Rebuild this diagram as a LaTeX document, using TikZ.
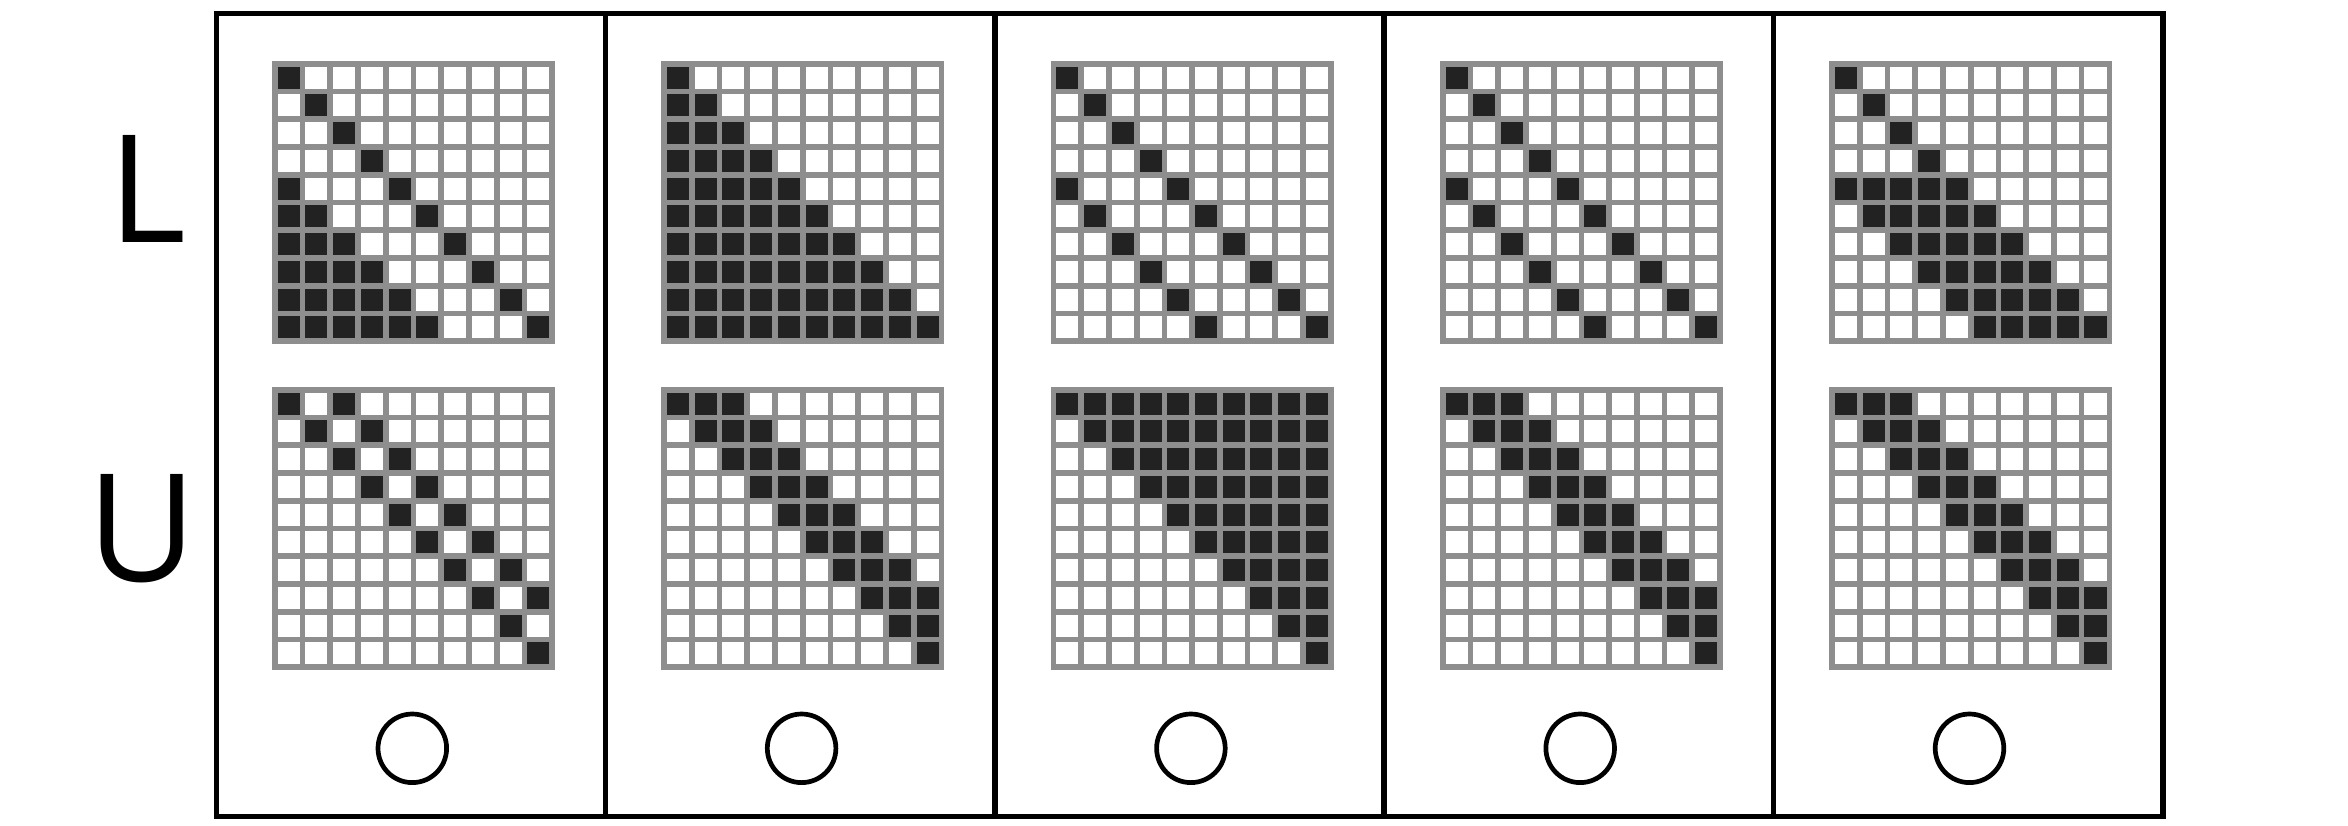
\documentclass[tikz,border=0pt]{standalone}
\usepackage{fontspec}
\setmainfont{Open Sans}
\definecolor{gridgray}{HTML}{8E8E8E}
\definecolor{cellblack}{HTML}{222222}
\newcommand\drawmat[3]{%
  \fill[gridgray] (#1,#2) rectangle ++(283,283);
  \foreach \i in {0,...,9}{\foreach \j in {0,...,9}{%
    \pgfmathtruncatemacro\d{\i-\j}%
    \pgfmathtruncatemacro\bb{(#3)?1:0}%
    \ifnum\bb=1 \def\cc{cellblack}\else\def\cc{white}\fi
    \fill[\cc] ({#1+5.7+\j*27.73},{#2+5.7+\i*27.73}) rectangle ++(22.03,22.03);
  }}%
}
\begin{document}
\begin{tikzpicture}[x=1pt,y=-1pt,
  frame/.style={line width=5.5pt,black},
  dot/.style={line width=4.7pt,black},
  lab/.style={font=\fontsize{150}{150}\selectfont,inner sep=0pt,anchor=base}]
\useasboundingbox (0,0) rectangle (2348,825);
\fill[white] (0,0) rectangle (2348,825);
% matrices
\drawmat{272}{61}{(\d==0)||(\d>=4)}
\drawmat{272}{387}{(\d==0)||(\d==-2)}
\drawmat{661.3}{61}{(\d>=0)}
\drawmat{661.3}{387}{(\d<=0)&&(\d>=-2)}
\drawmat{1050.6}{61}{(\d==0)||(\d==4)}
\drawmat{1050.6}{387}{(\d<=0)}
\drawmat{1439.9}{61}{(\d==0)||(\d==4)}
\drawmat{1439.9}{387}{(\d<=0)&&(\d>=-2)}
\drawmat{1829.2}{61}{(\d==0)||((\i>=4)&&(\d>=0)&&(\d<=4))}
\drawmat{1829.2}{387}{(\d<=0)&&(\d>=-2)}
% frame
\draw[frame] (216.3,13.5) rectangle (2162.8,816.3);
\foreach \k in {1,...,4}{
  \draw[frame] ({216.3+389.3*\k},13.5) -- ({216.3+389.3*\k},816.3);
}
\foreach \k in {0,...,4}{
  \draw[dot] ({412.3+389.3*\k},748.3) circle[radius=34.3pt];
}
\node[lab] (labL) at (147,242.3) {L};
\node[lab] (labU) at (142,581) {U};
\end{tikzpicture}
\end{document}
